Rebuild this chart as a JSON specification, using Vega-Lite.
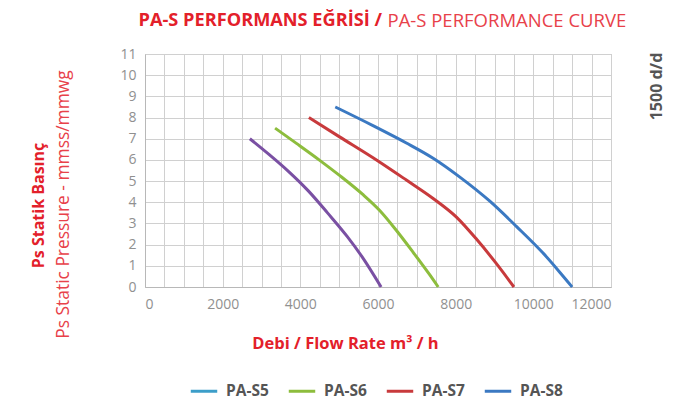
{
  "$schema": "https://vega.github.io/schema/vega-lite/v6.json",
  "autosize": {"type": "none"},
  "width": 466,
  "height": 233,
  "padding": {"left": 145, "top": 54, "right": 72, "bottom": 120},
  "background": "white",
  "config": {
    "font": "Open Sans",
    "view": {"stroke": "#b8b8b8", "strokeWidth": 1}
  },
  "data": {
    "values": [
      {"model": "PA-S5", "flow": 2700, "pressure": 7.0},
      {"model": "PA-S5", "flow": 3200, "pressure": 6.25},
      {"model": "PA-S5", "flow": 3700, "pressure": 5.45},
      {"model": "PA-S5", "flow": 4200, "pressure": 4.55},
      {"model": "PA-S5", "flow": 4700, "pressure": 3.5},
      {"model": "PA-S5", "flow": 5200, "pressure": 2.4},
      {"model": "PA-S5", "flow": 5600, "pressure": 1.4},
      {"model": "PA-S5", "flow": 6080, "pressure": 0},
      {"model": "PA-S6", "flow": 3350, "pressure": 7.5},
      {"model": "PA-S6", "flow": 3900, "pressure": 6.78},
      {"model": "PA-S6", "flow": 4500, "pressure": 5.98},
      {"model": "PA-S6", "flow": 5000, "pressure": 5.28},
      {"model": "PA-S6", "flow": 5600, "pressure": 4.38},
      {"model": "PA-S6", "flow": 6050, "pressure": 3.6},
      {"model": "PA-S6", "flow": 6470, "pressure": 2.68},
      {"model": "PA-S6", "flow": 6900, "pressure": 1.65},
      {"model": "PA-S6", "flow": 7330, "pressure": 0.58},
      {"model": "PA-S6", "flow": 7550, "pressure": 0},
      {"model": "PA-S7", "flow": 4220, "pressure": 8.0},
      {"model": "PA-S7", "flow": 5000, "pressure": 7.1},
      {"model": "PA-S7", "flow": 6000, "pressure": 5.95},
      {"model": "PA-S7", "flow": 6730, "pressure": 5.05},
      {"model": "PA-S7", "flow": 7420, "pressure": 4.18},
      {"model": "PA-S7", "flow": 8020, "pressure": 3.3},
      {"model": "PA-S7", "flow": 8540, "pressure": 2.25},
      {"model": "PA-S7", "flow": 9050, "pressure": 1.1},
      {"model": "PA-S7", "flow": 9500, "pressure": 0},
      {"model": "PA-S8", "flow": 4900, "pressure": 8.5},
      {"model": "PA-S8", "flow": 5870, "pressure": 7.62},
      {"model": "PA-S8", "flow": 6730, "pressure": 6.8},
      {"model": "PA-S8", "flow": 7420, "pressure": 6.08},
      {"model": "PA-S8", "flow": 8100, "pressure": 5.2},
      {"model": "PA-S8", "flow": 8880, "pressure": 4.05},
      {"model": "PA-S8", "flow": 9570, "pressure": 2.85},
      {"model": "PA-S8", "flow": 10250, "pressure": 1.6},
      {"model": "PA-S8", "flow": 10680, "pressure": 0.7},
      {"model": "PA-S8", "flow": 11000, "pressure": 0}
    ]
  },
  "resolve": {
    "axis": {"x": "independent", "y": "independent"},
    "scale": {"color": "independent", "stroke": "independent"}
  },
  "layer": [
    {
      "mark": {"type": "line", "strokeWidth": 3, "interpolate": "monotone"},
      "encoding": {
        "x": {
          "field": "flow", "type": "quantitative",
          "scale": {"domain": [0, 12000], "nice": false},
          "axis": {
            "orient": "bottom",
            "values": [0,500,1000,1500,2000,2500,3000,3500,4000,4500,5000,5500,6000,6500,7000,7500,8000,8500,9000,9500,10000,10500,11000,11500,12000],
            "labelExpr": "datum.value % 2000 === 0 ? datum.label : ''",
            "format": "d",
            "labelOverlap": false,
            "labelFont": "Open Sans", "labelFontSize": 14, "labelColor": "#909090", "labelFontWeight": "normal",
            "labelPadding": 10,
            "ticks": false, "domain": true, "domainColor": "#b8b8b8",
            "grid": true, "gridColor": "#d0d0d0", "gridWidth": 1,
            "title": "Debi / Flow Rate m³ / h",
            "titleFont": "Open Sans", "titleFontSize": 16.5, "titleFontWeight": "bold", "titleColor": "#e3202a",
            "titleX": 200, "titleY": 56, "titleAlign": "center", "titleBaseline": "middle"
          }
        },
        "y": {
          "field": "pressure", "type": "quantitative",
          "scale": {"domain": [0, 11], "nice": false},
          "axis": {
            "orient": "left",
            "values": [0,1,2,3,4,5,6,7,8,9,10,11],
            "format": "d",
            "labelFont": "Open Sans", "labelFontSize": 14, "labelColor": "#909090", "labelFontWeight": "normal",
            "labelPadding": 9,
            "ticks": false, "domain": true, "domainColor": "#b8b8b8",
            "grid": true, "gridColor": "#d0d0d0", "gridWidth": 1,
            "title": "Ps Static Pressure - mmss/mmwg",
            "titleFont": "Open Sans", "titleFontSize": 17.4, "titleFontWeight": "normal", "titleColor": "#e8414a",
            "titleAngle": -90, "titleX": -82, "titleY": 150, "titleAlign": "center", "titleBaseline": "middle"
          }
        },
        "stroke": {
          "field": "model", "type": "nominal",
          "scale": {"domain": ["PA-S5", "PA-S6", "PA-S7", "PA-S8"], "range": ["#7a50a3", "#8dbd3d", "#c83a3c", "#3b79c2"]},
          "legend": null
        }
      }
    },
    {
      "mark": {"type": "line", "opacity": 0},
      "encoding": {
        "x": {
          "field": "flow", "type": "quantitative",
          "axis": {
            "orient": "top", "labels": false, "ticks": false, "domain": false, "grid": false,
            "title": "PA-S PERFORMANS EĞRİSİ /",
            "titleFont": "Open Sans", "titleFontSize": 18.2, "titleFontWeight": "bold", "titleColor": "#e3202a",
            "titleX": -7, "titleY": -34, "titleAlign": "left", "titleBaseline": "middle"
          }
        },
        "y": {
          "field": "pressure", "type": "quantitative",
          "axis": {
            "orient": "left", "labels": false, "ticks": false, "domain": false, "grid": false,
            "title": "Ps Statik Basınç",
            "titleFont": "Open Sans", "titleFontSize": 16, "titleFontWeight": "bold", "titleColor": "#e3202a",
            "titleAngle": -90, "titleX": -107, "titleY": 151, "titleAlign": "center", "titleBaseline": "middle"
          }
        },
        "color": {
          "field": "model", "type": "nominal",
          "scale": {"domain": ["PA-S5", "PA-S6", "PA-S7", "PA-S8"], "range": ["#3c9ec9", "#8dbd3d", "#c83a3c", "#3b79c2"]},
          "legend": {
            "orient": "none", "direction": "horizontal", "legendX": 44, "legendY": 322,
            "title": null,
            "symbolType": "stroke", "symbolSize": 700, "symbolStrokeWidth": 3, "symbolOpacity": 1,
            "labelFont": "Open Sans", "labelFontSize": 15.5, "labelFontWeight": "bold", "labelColor": "#555555",
            "labelOffset": 7, "columnPadding": 13
          }
        }
      }
    },
    {
      "mark": {"type": "line", "opacity": 0},
      "encoding": {
        "x": {
          "field": "flow", "type": "quantitative",
          "axis": {
            "orient": "top", "labels": false, "ticks": false, "domain": false, "grid": false,
            "title": "PA-S PERFORMANCE CURVE",
            "titleFont": "Open Sans", "titleFontSize": 18.5, "titleFontWeight": "normal", "titleColor": "#e8414a",
            "titleX": 242, "titleY": -34, "titleAlign": "left", "titleBaseline": "middle"
          }
        },
        "y": {
          "field": "pressure", "type": "quantitative",
          "axis": {
            "orient": "right", "labels": false, "ticks": false, "domain": false, "grid": false,
            "title": "1500 d/d",
            "titleFont": "Open Sans", "titleFontSize": 16, "titleFontWeight": "bold", "titleColor": "#555555",
            "titleAngle": -90, "titleX": 45, "titleY": 32, "titleAlign": "center", "titleBaseline": "middle"
          }
        }
      }
    }
  ]
}
